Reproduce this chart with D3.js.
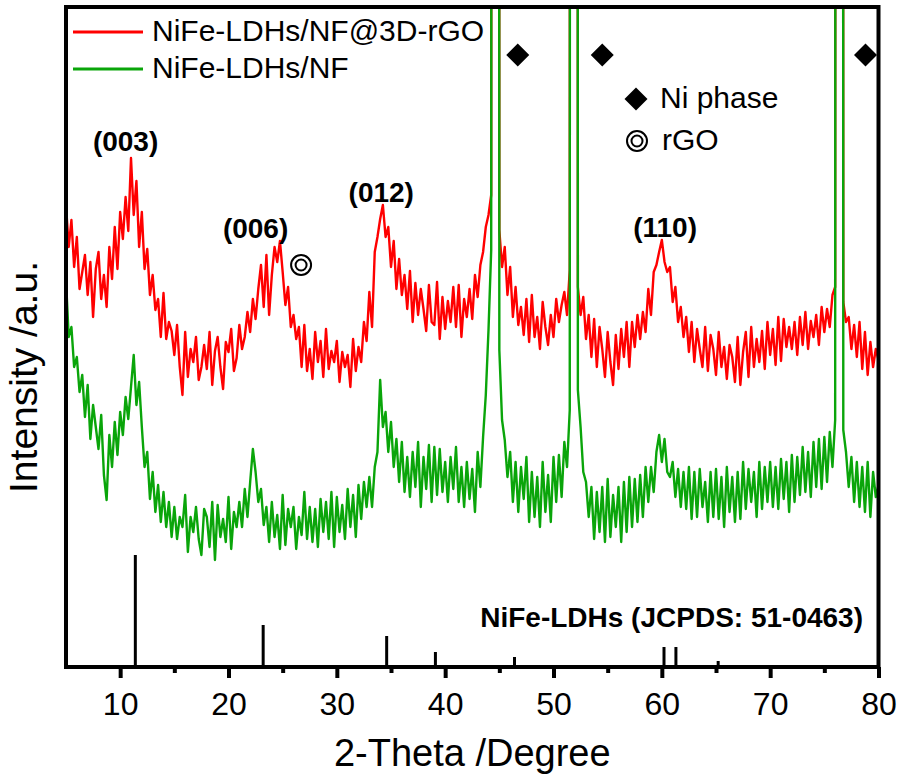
<!DOCTYPE html>
<html>
<head>
<meta charset="utf-8">
<script src="https://cdn.jsdelivr.net/npm/d3@7"></script>
<style>
  html, body { margin: 0; padding: 0; background: #fff; }
  svg { display: block; font-family: "Liberation Sans", Arial, Helvetica, sans-serif; }
</style>
</head>
<body>
<svg id="chart" width="900" height="777"></svg>
<script>
// ---------------- DATA ----------------
// XRD patterns, 2-theta from 5 to 80 degrees, measured every 0.25 degree (arbitrary intensity units)
const thetaStart = 5;
const thetaStep = 0.25;

const seriesNames = ["NiFe-LDHs/NF@3D-rGO", "NiFe-LDHs/NF"];

const redIntensity = [
462,420,447,400, 430,378,395,412, 372,405,350,398, 415,368,392,360, 420,388,440,398,
455,428,470,436, 509,452,486,420, 455,398,418,372, 392,357,368,330, 374,328,345,336,
312,342,300,272, 335,290,318,305, 330,287,300,322, 298,335,282,316, 330,300,278,325,
315,338,296,309, 342,318,330,355, 335,368,348,378, 402,360,412,352, 392,420,405,426,
395,362,380,340, 352,328,340,300, 342,296,318,288, 335,305,326,290, 338,298,316,305,
326,285,315,300, 312,280,328,296, 320,305,345,326, 375,340,415,430, 448,462,430,440,
400,426,378,408, 372,392,358,396, 345,384,352,378, 358,336,382,345, 342,385,328,370,
338,366,345,380, 340,382,330,368, 350,378,348,392, 370,402,415,440, 452,472,9000,9000,
437,400,420,372, 400,350,380,342, 360,332,368,325, 372,330,350,318, 365,340,322,352,
330,368,345,362, 375,352,397,9000, 9000,380,352,370, 328,352,310,348, 300,340,318,290,
335,305,282,332, 298,338,310,345, 300,345,320,352, 328,355,335,378, 352,395,402,415,
427,405,395,400, 365,380,345,360, 330,350,315,345, 305,338,318,300, 340,296,332,318,
292,335,300,320, 288,322,310,285, 330,282,315,335, 290,340,300,328, 305,336,298,345,
312,338,302,350, 306,348,320,340, 318,345,312,350, 322,355,318,346, 330,352,322,360,
335,358,340,372, 380,9000,9000,365, 345,350,318,342, 310,345,298,335, 292,325,300,318,
307
];

const greenIntensity = [
387,330,340,300, 310,275,292,250, 282,228,262,240, 218,252,192,167, 232,200,245,212,
255,232,270,248, 280,312,262,285, 240,200,215,168, 195,155,182,145, 175,140,165,130,
160,128,150,140, 172,115,150,135, 160,128,112,158, 150,120,165,107, 162,130,148,125,
170,118,155,140, 165,140,178,150, 185,218,195,165, 178,142,160,125, 165,130,152,118,
172,122,158,140, 160,118,150,132, 175,128,160,125, 158,120,168,135, 165,128,175,120,
170,135,162,128, 178,140,172,130, 182,148,185,160, 190,160,200,215, 287,240,255,215,
245,200,228,185, 225,175,210,170, 215,180,225,160, 210,178,222,165, 220,172,218,175,
205,165,210,178, 220,165,200,160, 205,168,198,155, 215,180,230,272, 337,417,9000,9000,
317,247,227,190, 215,165,205,155, 200,168,210,145, 195,150,190,140, 205,155,192,145,
210,165,212,170, 225,200,257,9000, 9000,277,240,195, 185,150,180,128, 175,135,180,125,
188,130,172,140, 180,125,185,135, 190,140,188,145, 192,150,200,165, 200,175,215,232,
205,228,195,190, 205,170,198,160, 195,158,200,148, 195,150,198,160, 185,145,195,150,
198,148,190,140, 200,155,190,145, 195,148,205,158, 198,165,195,150, 205,158,200,165,
205,160,200,158, 208,168,205,155, 212,165,210,172, 220,175,215,170, 225,180,228,178,
230,185,235,200, 247,9000,9000,237, 215,180,210,165, 205,160,200,155, 205,150,195,170,
182
];

// JCPDS 51-0463 reference lines
const refPositions = [11.4, 23.2, 34.6, 39.1, 46.4, 60.2, 61.3, 65.2];
const refHeights   = [112, 42, 31, 15, 10, 20, 20, 6];

// Ni phase markers
const niPositions = [46.7, 54.5, 78.8];
const niLevel = 612;

// rGO marker
const rgoPosition = 26.7;
const rgoLevel = 402;

// Peak labels
const peakLabels = ["(003)", "(006)", "(012)", "(110)"];
const peakLabelX = [10.5, 22.5, 34.1, 60.3];
const peakLabelY = [516, 429, 465, 430];

const majorTicks = [10, 20, 30, 40, 50, 60, 70, 80];
const minorTicks = [15, 25, 35, 45, 55, 65, 75];

// ---------------- CHART ----------------
const RED = "#ff0000";
const GREEN = "#0aa50a";

const svg = d3.select("#chart");
svg.append("rect").attr("width", 900).attr("height", 777).attr("fill", "#fff");

const x = d3.scaleLinear().domain([5, 80]).range([66, 878.5]);
const y = d3.scaleLinear().domain([0, 660]).range([667, 7]);

svg.append("clipPath").attr("id", "plotclip")
  .append("rect")
  .attr("x", x(5)).attr("y", y(660))
  .attr("width", x(80) - x(5)).attr("height", y(0) - y(660));

const plot = svg.append("g").attr("clip-path", "url(#plotclip)");

const line = d3.line()
  .x((d, i) => x(thetaStart + thetaStep * i))
  .y(d => y(d));

plot.append("path")
  .datum(redIntensity)
  .attr("fill", "none")
  .attr("stroke", RED)
  .attr("stroke-width", 2.4)
  .attr("stroke-linejoin", "round")
  .attr("d", line);

plot.append("path")
  .datum(greenIntensity)
  .attr("fill", "none")
  .attr("stroke", GREEN)
  .attr("stroke-width", 2.4)
  .attr("stroke-linejoin", "round")
  .attr("d", line);

// reference sticks
plot.selectAll("line.ref")
  .data(refPositions)
  .enter().append("line")
  .attr("class", "ref")
  .attr("x1", d => x(d)).attr("x2", d => x(d))
  .attr("y1", y(0))
  .attr("y2", (d, i) => y(refHeights[i]))
  .attr("stroke", "#000")
  .attr("stroke-width", 3);

// axes ticks
const axisMajor = d3.axisBottom(x)
  .tickValues(majorTicks)
  .tickSizeInner(11)
  .tickSizeOuter(0)
  .tickPadding(14)
  .tickFormat(d3.format("d"));

const gMajor = svg.append("g").attr("transform", `translate(0,${y(0)})`).call(axisMajor);
gMajor.select(".domain").remove();
gMajor.selectAll(".tick line").attr("stroke", "#000").attr("stroke-width", 4);
gMajor.selectAll(".tick text")
  .attr("fill", "#000")
  .style("font-size", "32px")
  .style("font-family", '"Liberation Sans", Arial, sans-serif');

const axisMinor = d3.axisBottom(x)
  .tickValues(minorTicks)
  .tickSizeInner(6)
  .tickSizeOuter(0)
  .tickFormat("");
const gMinor = svg.append("g").attr("transform", `translate(0,${y(0)})`).call(axisMinor);
gMinor.select(".domain").remove();
gMinor.selectAll(".tick line").attr("stroke", "#000").attr("stroke-width", 4);

// frame
svg.append("rect")
  .attr("x", x(5)).attr("y", y(660))
  .attr("width", x(80) - x(5)).attr("height", y(0) - y(660))
  .attr("fill", "none")
  .attr("stroke", "#000")
  .attr("stroke-width", 4);

// axis titles
svg.append("text")
  .attr("x", (x(5) + x(80)) / 2)
  .attr("y", 766)
  .attr("text-anchor", "middle")
  .style("font-size", "38px")
  .text("2-Theta /Degree");

svg.append("text")
  .attr("transform", "translate(37,377) rotate(-90)")
  .attr("text-anchor", "middle")
  .style("font-size", "39px")
  .text("Intensity /a.u.");

// legend
const legendColors = [RED, GREEN];
const legendY = [32, 69];
seriesNames.forEach((name, i) => {
  svg.append("line")
    .attr("x1", 73).attr("x2", 143)
    .attr("y1", legendY[i]).attr("y2", legendY[i])
    .attr("stroke", legendColors[i]).attr("stroke-width", 3);
  svg.append("text")
    .attr("x", 152).attr("y", legendY[i] + 9)
    .style("font-size", "30px")
    .text(name);
});

// peak labels
peakLabels.forEach((t, i) => {
  svg.append("text")
    .attr("x", x(peakLabelX[i]))
    .attr("y", y(peakLabelY[i]))
    .attr("text-anchor", "middle")
    .style("font-size", "28px")
    .style("font-weight", "bold")
    .text(t);
});

// JCPDS label
svg.append("text")
  .attr("x", 863).attr("y", 627)
  .attr("text-anchor", "end")
  .style("font-size", "28px")
  .style("font-weight", "bold")
  .text("NiFe-LDHs (JCPDS: 51-0463)");

// Ni phase diamonds
const diamond = d3.symbol().type(d3.symbolSquare).size(265);
svg.selectAll("path.ni")
  .data(niPositions)
  .enter().append("path")
  .attr("class", "ni")
  .attr("d", diamond)
  .attr("transform", d => `translate(${x(d)},${y(niLevel)}) rotate(45)`)
  .attr("fill", "#000");

// rGO marker
function doubleCircle(cx, cy) {
  svg.append("circle").attr("cx", cx).attr("cy", cy).attr("r", 10)
    .attr("fill", "none").attr("stroke", "#000").attr("stroke-width", 2);
  svg.append("circle").attr("cx", cx).attr("cy", cy).attr("r", 5.5)
    .attr("fill", "none").attr("stroke", "#000").attr("stroke-width", 2);
}
doubleCircle(x(rgoPosition), y(rgoLevel));

// symbol legend
svg.append("path")
  .attr("d", diamond)
  .attr("transform", "translate(636,99) rotate(45)")
  .attr("fill", "#000");
svg.append("text").attr("x", 660).attr("y", 108).style("font-size", "30px").text("Ni phase");
doubleCircle(637, 141);
svg.append("text").attr("x", 662).attr("y", 150).style("font-size", "30px").text("rGO");
</script>
</body>
</html>
